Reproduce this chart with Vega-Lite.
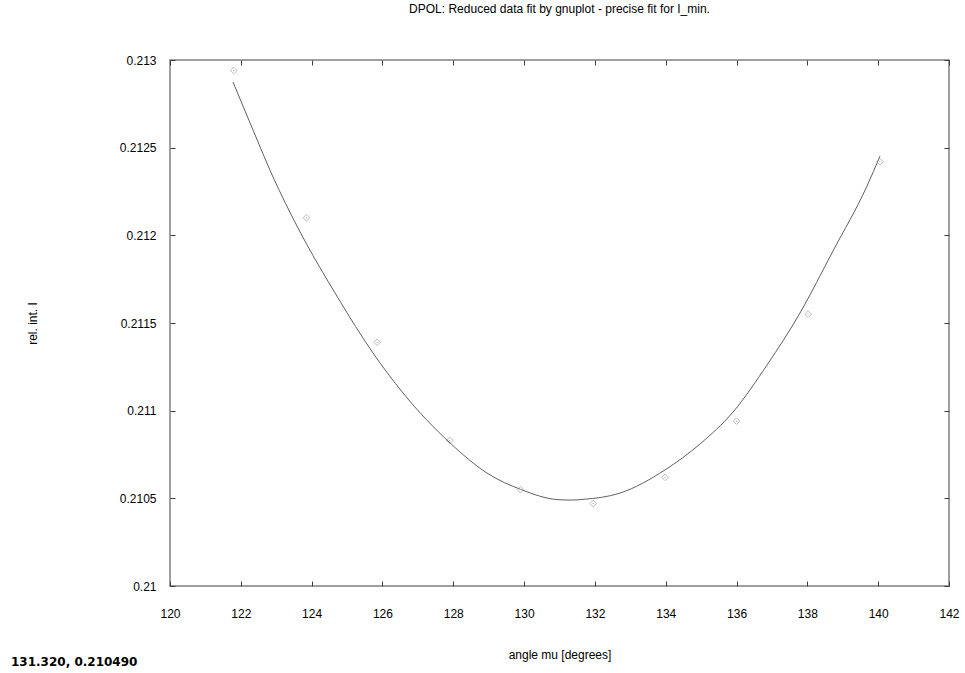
{
  "$schema": "https://vega.github.io/schema/vega-lite/v6.json",
  "autosize": {"type": "none"},
  "padding": {"left": 170, "top": 60, "right": 16, "bottom": 87},
  "width": 779,
  "height": 526,
  "background": "white",
  "title": {
    "text": "DPOL: Reduced data fit by gnuplot - precise fit for I_min.",
    "font": "Liberation Sans",
    "fontSize": 12,
    "fontWeight": "normal",
    "color": "#000000",
    "anchor": "middle",
    "offset": 38
  },
  "config": {
    "view": {"stroke": "#808080", "strokeWidth": 1.5},
    "axis": {
      "grid": false,
      "domain": false,
      "tickColor": "#404040",
      "tickSize": -5,
      "tickWidth": 1,
      "labelFlush": false,
      "labelFont": "Liberation Sans",
      "labelFontSize": 12,
      "labelColor": "#000000",
      "titleFont": "Liberation Sans",
      "titleFontSize": 12,
      "titleFontWeight": "normal",
      "titleColor": "#000000"
    }
  },
  "datasets": {
    "points": [
      {"mu": 121.8, "I": 0.21294},
      {"mu": 123.85, "I": 0.21210},
      {"mu": 125.85, "I": 0.21139},
      {"mu": 127.9, "I": 0.21083},
      {"mu": 129.9, "I": 0.21055},
      {"mu": 131.95, "I": 0.21047},
      {"mu": 133.98, "I": 0.21062},
      {"mu": 136.0, "I": 0.21094},
      {"mu": 138.02, "I": 0.21155},
      {"mu": 140.05, "I": 0.21242}
    ],
    "fit": [
      {"mu": 121.779, "I": 0.212875},
      {"mu": 122.344, "I": 0.212601},
      {"mu": 122.909, "I": 0.212333},
      {"mu": 123.615, "I": 0.212042},
      {"mu": 124.745, "I": 0.211643},
      {"mu": 125.733, "I": 0.211329},
      {"mu": 126.580, "I": 0.211101},
      {"mu": 127.908, "I": 0.210816},
      {"mu": 128.953, "I": 0.210644},
      {"mu": 129.941, "I": 0.210548},
      {"mu": 130.930, "I": 0.210493},
      {"mu": 131.320, "I": 0.210490},
      {"mu": 131.664, "I": 0.210494},
      {"mu": 132.709, "I": 0.210530},
      {"mu": 133.980, "I": 0.210662},
      {"mu": 134.968, "I": 0.210810},
      {"mu": 135.900, "I": 0.210992},
      {"mu": 136.860, "I": 0.211260},
      {"mu": 137.792, "I": 0.211557},
      {"mu": 138.724, "I": 0.211911},
      {"mu": 139.684, "I": 0.212281},
      {"mu": 140.051, "I": 0.212452}
    ],
    "status": [
      {"label": "131.320,  0.210490", "mu": 120, "I": 0.21}
    ]
  },
  "layer": [
    {
      "data": {"name": "fit"},
      "mark": {"type": "line", "color": "#606060", "strokeWidth": 1, "interpolate": "monotone", "clip": true},
      "encoding": {
        "x": {
          "field": "mu", "type": "quantitative",
          "scale": {"domain": [120, 142], "nice": false, "zero": false},
          "axis": {
            "orient": "bottom",
            "values": [120, 122, 124, 126, 128, 130, 132, 134, 136, 138, 140, 142],
            "labelPadding": 27,
            "title": "angle mu [degrees]",
            "titlePadding": 30
          }
        },
        "y": {
          "field": "I", "type": "quantitative",
          "scale": {"domain": [0.21, 0.213], "nice": false, "zero": false},
          "axis": {
            "orient": "left",
            "values": [0.21, 0.2105, 0.211, 0.2115, 0.212, 0.2125, 0.213],
            "format": "~g",
            "labelPadding": 19,
            "title": "rel. int. I",
            "titlePadding": 80
          }
        }
      }
    },
    {
      "data": {"name": "points"},
      "mark": {"type": "point", "shape": "diamond", "filled": false, "stroke": "#a0a0a0", "strokeWidth": 1, "size": 45},
      "encoding": {
        "x": {
          "field": "mu", "type": "quantitative",
          "axis": {
            "orient": "top",
            "values": [120, 122, 124, 126, 128, 130, 132, 134, 136, 138, 140, 142],
            "labels": false,
            "title": null
          }
        },
        "y": {
          "field": "I", "type": "quantitative",
          "axis": {
            "orient": "right",
            "values": [0.21, 0.2105, 0.211, 0.2115, 0.212, 0.2125, 0.213],
            "labels": false,
            "title": null
          }
        }
      }
    },
    {
      "data": {"name": "points"},
      "mark": {"type": "point", "shape": "square", "filled": true, "color": "#a0a0a0", "size": 1, "opacity": 1},
      "encoding": {
        "x": {"field": "mu", "type": "quantitative", "axis": null},
        "y": {"field": "I", "type": "quantitative", "axis": null}
      }
    },
    {
      "data": {"name": "status"},
      "mark": {"type": "text", "font": "DejaVu Sans", "fontSize": 12, "fontWeight": "bold", "align": "left", "baseline": "middle", "dx": -159, "dy": 76, "color": "#000000"},
      "encoding": {
        "x": {"field": "mu", "type": "quantitative", "axis": null},
        "y": {"field": "I", "type": "quantitative", "axis": null},
        "text": {"field": "label"}
      }
    }
  ],
  "resolve": {"axis": {"x": "independent", "y": "independent"}}
}
